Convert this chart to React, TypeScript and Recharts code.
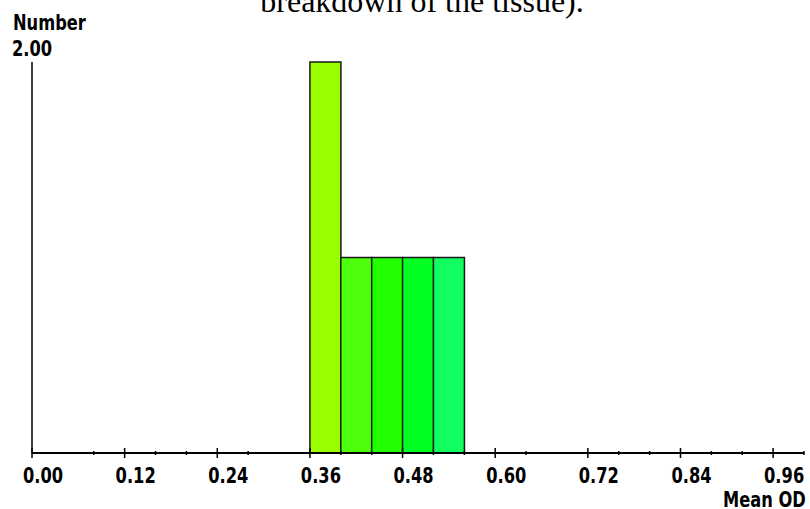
import React from "react";
import { BarChart, Bar, XAxis, YAxis, Cell } from "recharts";

// Histogram bins of mean optical density (bin centres, width 0.04)
const binCenters = [0.38, 0.42, 0.46, 0.5, 0.54];
const binCounts = [2, 1, 1, 1, 1];
const binColors = ["#99ff00", "#4dff0a", "#22ff00", "#00ff22", "#11ff5e"];

// Axis ticks: every 0.04, labels every 0.12
const xTicks = [0, 0.08, 0.12, 0.16, 0.2, 0.24, 0.28, 0.36, 0.4, 0.44, 0.48, 0.52, 0.56, 0.6, 0.64, 0.72, 0.76, 0.8, 0.84, 0.88, 0.92, 0.96, 1.0];
const xLabelled = [0, 0.12, 0.24, 0.36, 0.48, 0.6, 0.72, 0.84, 0.96];
const yTicks = [2];

const data = binCenters.map((mid, i) => ({ mid, count: binCounts[i] }));

const W = 810;
const H = 509;
const labelFont = "'DejaVu Sans', sans-serif";
const SX = 0.74; // horizontal squeeze for the narrow bold labels

const NarrowText = ({ x, y, children, anchor = "start" }: { x: number; y: number; children: React.ReactNode; anchor?: "start" | "middle" | "end" }) => (
  <text
    transform={`translate(${x},${y}) scale(${SX},1)`}
    textAnchor={anchor}
    fill="#000"
    style={{ fontFamily: labelFont, fontWeight: 700, fontSize: 22 }}
  >
    {children}
  </text>
);

const XTick = (props: any) => {
  const { x, y, payload } = props;
  const v = payload.value as number;
  const major = xLabelled.some((t) => Math.abs(t - v) < 1e-6);
  return (
    <g>
      <line x1={x} x2={x} y1={major ? y - 5 : y - 2} y2={major ? y + 5 : y + 2} stroke="#000" strokeWidth={1.5} />
      {major && (
        <NarrowText x={x + 11} y={y + 30} anchor="middle">
          {v.toFixed(2)}
        </NarrowText>
      )}
    </g>
  );
};

const YTick = (props: any) => {
  const { x, y, payload } = props;
  return (
    <NarrowText x={x - 20} y={y - 6}>
      {(payload.value as number).toFixed(2)}
    </NarrowText>
  );
};

export default function App() {
  return (
    <div style={{ position: "absolute", left: 0, top: 0, width: W, height: H, background: "#fff", overflow: "hidden" }}>
      <BarChart
        width={W}
        height={H}
        data={data}
        margin={{ top: 62, right: 6, bottom: 0, left: 0 }}
        barCategoryGap={0}
      >
        <XAxis
          type="number"
          dataKey="mid"
          domain={[0, 1]}
          ticks={xTicks}
          interval={0}
          height={56}
          tickSize={0}
          tickMargin={0}
          tickLine={false}
          axisLine={{ stroke: "#000", strokeWidth: 2 }}
          tick={<XTick />}
        />
        <YAxis
          type="number"
          domain={[0, 2]}
          ticks={yTicks}
          interval={0}
          width={32}
          tickSize={0}
          tickMargin={0}
          tickLine={false}
          axisLine={{ stroke: "#000", strokeWidth: 1.5 }}
          tick={<YTick />}
        />
        <Bar dataKey="count" stroke="#1a1a1a" strokeWidth={1.5} isAnimationActive={false}>
          {data.map((_, i) => (
            <Cell key={i} fill={binColors[i]} />
          ))}
        </Bar>
      </BarChart>
      <svg width={W} height={H} style={{ position: "absolute", left: 0, top: 0, pointerEvents: "none" }}>
        <text
          x={422}
          y={12}
          textAnchor="middle"
          fill="#000"
          style={{ fontFamily: "'Liberation Serif', 'Times New Roman', serif", fontSize: 32 }}
        >
          breakdown of the tissue).
        </text>
        <NarrowText x={13} y={30}>Number</NarrowText>
        <NarrowText x={723} y={507}>Mean OD</NarrowText>
      </svg>
    </div>
  );
}
